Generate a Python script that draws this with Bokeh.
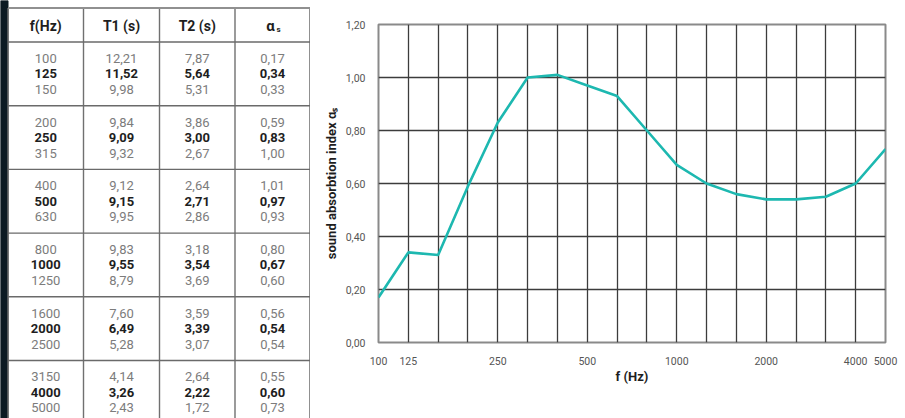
from bokeh.plotting import figure
from bokeh.layouts import row
from bokeh.models import Range1d, FixedTicker, CustomJSTickFormatter, BoxAnnotation
from bokeh.core.properties import value
from bokeh.embed import file_html
from bokeh.resources import INLINE

# ---------------- data ----------------
freqs = ["100", "125", "150", "200", "250", "315", "400", "500", "630",
         "800", "1000", "1250", "1600", "2000", "2500", "3150", "4000", "5000"]
t1 = [12.21, 11.52, 9.98, 9.84, 9.09, 9.32, 9.12, 9.15, 9.95,
      9.83, 9.55, 8.79, 7.60, 6.49, 5.28, 4.14, 3.26, 2.43]
t2 = [7.87, 5.64, 5.31, 3.86, 3.00, 2.67, 2.64, 2.71, 2.86,
      3.18, 3.54, 3.69, 3.59, 3.39, 3.07, 2.64, 2.22, 1.72]
alpha = [0.17, 0.34, 0.33, 0.59, 0.83, 1.00, 1.01, 0.97, 0.93,
         0.80, 0.67, 0.60, 0.56, 0.54, 0.54, 0.55, 0.60, 0.73]
headers = ["f(Hz)", "T1 (s)", "T2 (s)"]
x_label_freqs = ["100", "125", "250", "500", "1000", "2000", "4000", "5000"]
y_ticks = [0.0, 0.2, 0.4, 0.6, 0.8, 1.0, 1.2]

FONT = "Roboto"
H = 418


def fmt(v):
    return f"{v:.2f}".replace(".", ",")


# ---------------- table ----------------
TW = 310
tf = figure(width=TW, height=H, x_range=Range1d(0, TW), y_range=Range1d(H, 0),
            output_backend="svg", toolbar_location=None, frame_align=False,
            min_border_left=0, min_border_right=0, min_border_top=0, min_border_bottom=0)
tf.axis.visible = False
tf.grid.visible = False
tf.outline_line_color = None
tf.background_fill_color = "white"
tf.border_fill_color = "white"

col_edges = [7.5, 83, 159, 234.5, 309.5]
col_centers = [(col_edges[i] + col_edges[i + 1]) / 2 for i in range(4)]
top_y = 7.5
head_bottom = 41.5
group_h = 63.7
row_gap = 15.5

tf.quad(left=0, right=7.5, top=0, bottom=H, color="#0c1a23")
# vertical column lines
tf.segment(x0=col_edges[:4], y0=[top_y] * 4, x1=col_edges[:4], y1=[H] * 4,
           line_color="#707070", line_width=1.4)
tf.segment(x0=[col_edges[4]], y0=[top_y], x1=[col_edges[4]], y1=[H],
           line_color="#909090", line_width=2)
# horizontal lines
hy = [head_bottom + group_h * g for g in range(6)]
tf.segment(x0=[7.5] * 6, y0=hy, x1=[309.5] * 6, y1=hy, line_color="#6a6a6a", line_width=1.4)
tf.segment(x0=[7.5], y0=[top_y], x1=[TW], y1=[top_y], line_color="#909090", line_width=2)

# header
tf.text(x=col_centers[:3], y=[25] * 3, text=headers, text_align="center",
        text_baseline="middle", text_font=value(FONT), text_font_size="14px",
        text_font_style="bold", text_color="#1e1e1e")
tf.text(x=[col_centers[3] - 2], y=[25], text=["α"], text_align="center",
        text_baseline="middle", text_font=value(FONT), text_font_size="15px",
        text_font_style="bold", text_color="#1e1e1e")
tf.text(x=[col_centers[3] + 4], y=[29], text=["s"], text_align="left",
        text_baseline="middle", text_font=value(FONT), text_font_size="8px",
        text_font_style="bold", text_color="#1e1e1e")

cols = [freqs, [fmt(v) for v in t1], [fmt(v) for v in t2], [fmt(v) for v in alpha]]
for bold in (False, True):
    xs, ys, ts = [], [], []
    for i in range(len(freqs)):
        g, r = divmod(i, 3)
        if (r == 1) != bold:
            continue
        yc = head_bottom + group_h * g + group_h / 2 + (r - 1) * row_gap
        for c in range(4):
            xs.append(col_centers[c])
            ys.append(yc)
            ts.append(cols[c][i])
    tf.text(x=xs, y=ys, text=ts, text_align="center", text_baseline="middle",
            text_font=value(FONT), text_font_size="13px",
            text_font_style="bold" if bold else "normal",
            text_color="#1e1e1e" if bold else "#7c7c7c")

# ---------------- chart ----------------
CW = 905 - TW
idx = list(range(len(freqs)))
cf = figure(width=CW, height=H, x_range=Range1d(0, len(freqs) - 1), y_range=Range1d(0, 1.2),
            output_backend="svg", toolbar_location=None, frame_align=False,
            min_border_left=68, min_border_right=20, min_border_top=24, min_border_bottom=76)
cf.background_fill_color = "white"
cf.border_fill_color = "white"
cf.outline_line_color = "#8a8a8a"
cf.outline_line_width = 2

cf.xaxis.ticker = FixedTicker(ticks=[freqs.index(f) for f in x_label_freqs])
cf.xaxis.major_label_overrides = {freqs.index(f): f for f in x_label_freqs}
cf.yaxis.ticker = FixedTicker(ticks=y_ticks)
cf.yaxis.formatter = CustomJSTickFormatter(code="return tick.toFixed(2).replace('.', ',');")
cf.xgrid.ticker = FixedTicker(ticks=idx)
cf.ygrid.ticker = FixedTicker(ticks=y_ticks)
cf.grid.grid_line_color = "#3c3c3c"
cf.grid.grid_line_width = 1.3

for ax in (cf.xaxis[0], cf.yaxis[0]):
    ax.axis_line_color = None
    ax.major_tick_line_color = None
    ax.minor_tick_line_color = None
    ax.major_label_text_font = FONT
    ax.major_label_text_font_size = "10.5px"
    ax.major_label_text_color = "#555555"
    ax.axis_label_text_font = FONT
    ax.axis_label_text_font_size = "13px"
    ax.axis_label_text_font_style = "bold"
    ax.axis_label_text_color = "#1e1e1e"
cf.xaxis.major_label_standoff = 8
cf.yaxis.major_label_standoff = 7
cf.xaxis.axis_label = "f (Hz)"
cf.yaxis.axis_label = "sound absorbtion index αₛ"
cf.xaxis.axis_label_standoff = 1
cf.yaxis.axis_label_standoff = 4

cf.line(x=idx, y=alpha, line_color="#1db8b0", line_width=2.6)

cf.add_layout(BoxAnnotation(left=0, right=CW, top=6.5, bottom=8.5,
                            left_units="canvas", right_units="canvas",
                            top_units="canvas", bottom_units="canvas",
                            fill_color="#909090", fill_alpha=1, line_color=None))

layout = row(tf, cf)

open("out.html", "w").write(file_html(layout, INLINE))
